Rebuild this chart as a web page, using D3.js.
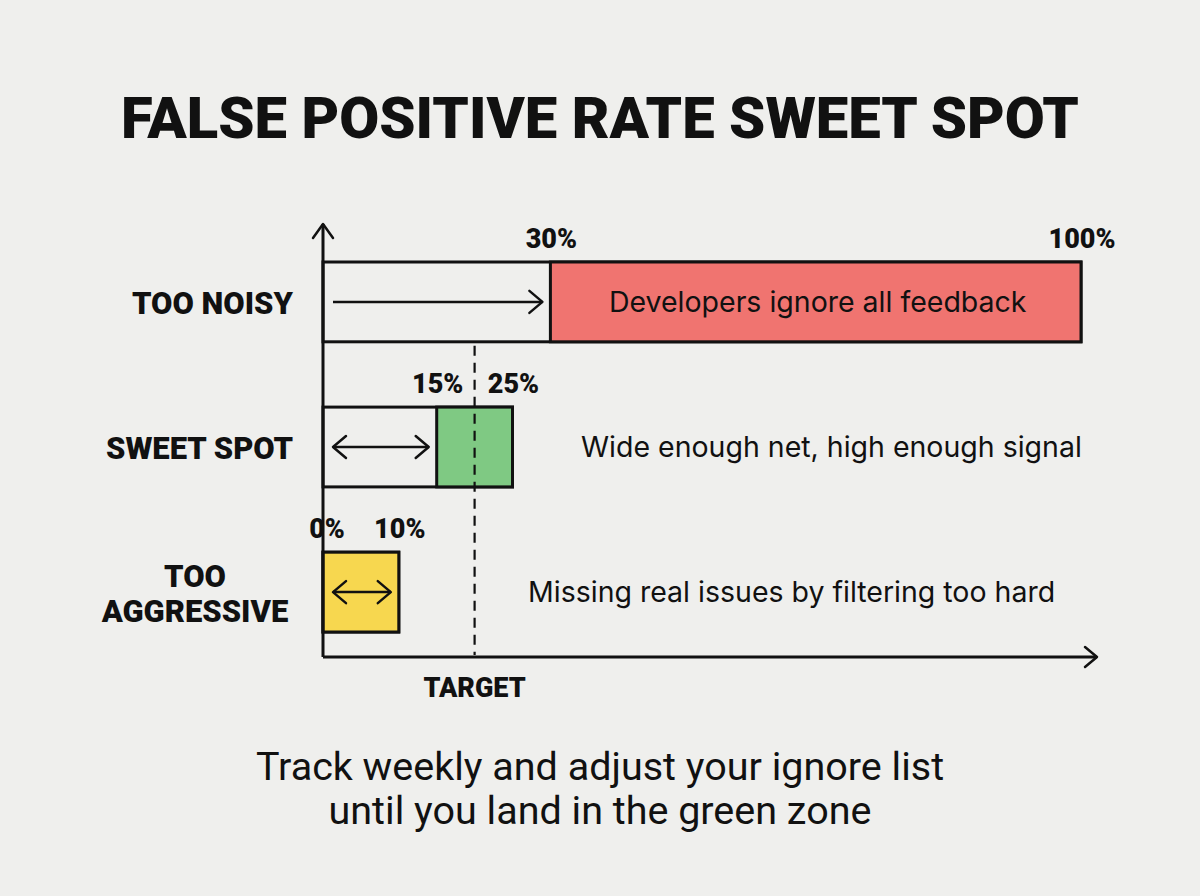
<!DOCTYPE html>
<html>
<head>
<meta charset="utf-8">
<script src="https://cdn.jsdelivr.net/npm/d3@7"></script>
<style>
  html, body { margin: 0; padding: 0; background: #efefed; }
  svg { display: block; }
</style>
</head>
<body>
<svg id="chart" width="1200" height="896"></svg>
<script>
// ---- data ----
const title = "FALSE POSITIVE RATE SWEET SPOT";
const zones = ["TOO NOISY", "SWEET SPOT", "TOO AGGRESSIVE"];
const zoneStart = [30, 15, 0];     // % false positive rate
const zoneEnd = [100, 25, 10];     // %
const zoneNotes = ["Developers ignore all feedback", "Wide enough net, high enough signal", "Missing real issues by filtering too hard"];
const zoneColors = ["#f07470", "#7fc983", "#f7d74f"];
const targetValue = 20;            // %
const targetLabel = "TARGET";
const footer = ["Track weekly and adjust your ignore list", "until you land in the green zone"];

const svg = d3.select("#chart");
const W = 1200, H = 896;
svg.append("rect").attr("width", W).attr("height", H).attr("fill", "#efefed");

const x = d3.scaleLinear().domain([0, 100]).range([323, 1081]);
const y = d3.scaleBand().domain(zones).range([262, 632]).paddingInner(0.45).paddingOuter(0);
const axisBottom = 657;
const ink = "#111";
const boldFont = "Roboto, sans-serif";
const sw = 3;

function applyAttrs(sel, obj) { Object.entries(obj).forEach(([k, v]) => sel.attr(k, v)); return sel; }

// title
svg.append("text").attr("x", 600).attr("y", 138).attr("text-anchor", "middle")
  .attr("font-family", boldFont).attr("font-weight", 900).attr("font-size", 58)
  .attr("fill", ink).text(title);

const g = svg.append("g");

// zone bars
zones.forEach((z, i) => {
  const y0 = y(z), bh = y.bandwidth();
  const xs = x(zoneStart[i]), xe = x(zoneEnd[i]);
  // outline band from axis to bar end
  g.append("rect").attr("x", x(0)).attr("y", y0).attr("width", xe - x(0)).attr("height", bh)
    .attr("fill", "none").attr("stroke", ink).attr("stroke-width", sw);
  // colored bar
  g.append("rect").attr("x", xs).attr("y", y0).attr("width", xe - xs).attr("height", bh)
    .attr("fill", zoneColors[i]).attr("stroke", ink).attr("stroke-width", sw);
  // value labels
  const lblY = y0 - 14;
  [zoneStart[i], zoneEnd[i]].forEach(v => {
    g.append("text").attr("x", x(v) + (v === 0 ? 4 : 1)).attr("y", lblY).attr("text-anchor", "middle")
      .attr("font-family", boldFont).attr("font-weight", 900).attr("font-size", 27)
      .attr("fill", ink).text(v + "%");
  });
  // arrows
  const ay = y0 + bh / 2;
  const a0 = x(0) + 10, a1 = (i === 2 ? xe : xs) - 8;
  g.append("line").attr("x1", a0).attr("x2", a1).attr("y1", ay).attr("y2", ay)
    .attr("stroke", ink).attr("stroke-width", 2.5);
  g.append("path").attr("d", `M${a1 - 13},${ay - 11} L${a1},${ay} L${a1 - 13},${ay + 11}`)
    .attr("fill", "none").attr("stroke", ink).attr("stroke-width", 2.5).attr("stroke-linecap", "round").attr("stroke-linejoin", "round");
  if (i > 0) {
    g.append("path").attr("d", `M${a0 + 13},${ay - 11} L${a0},${ay} L${a0 + 13},${ay + 11}`)
      .attr("fill", "none").attr("stroke", ink).attr("stroke-width", 2.5).attr("stroke-linecap", "round").attr("stroke-linejoin", "round");
  }
  // notes
  const noteFont = { "font-family": "Inter, sans-serif", "font-size": 28.5, "fill": ink };
  let t;
  if (i === 0) {
    t = g.append("text").attr("x", (xs + xe) / 2 + 2).attr("y", ay + 10).attr("text-anchor", "middle");
  } else if (i === 1) {
    t = g.append("text").attr("x", 581).attr("y", ay + 10).attr("text-anchor", "start");
  } else {
    t = g.append("text").attr("x", 528).attr("y", ay + 10).attr("text-anchor", "start");
  }
  applyAttrs(t, noteFont).text(zoneNotes[i]);
  // zone labels
  const lf = { "font-family": boldFont, "font-weight": 900, "font-size": 31, "fill": ink };
  if (i < 2) {
    applyAttrs(g.append("text").attr("x", 293).attr("y", ay + 12).attr("text-anchor", "end"), lf).text(z);
  } else {
    z.split(" ").forEach((p, k) => {
      applyAttrs(g.append("text").attr("x", 195).attr("y", ay - 5 + k * 35).attr("text-anchor", "middle"), lf).text(p);
    });
  }
});

// axes
g.append("line").attr("x1", x(0)).attr("x2", x(0)).attr("y1", 224).attr("y2", axisBottom)
  .attr("stroke", ink).attr("stroke-width", sw);
g.append("path").attr("d", `M${x(0) - 10},${238} L${x(0)},${224} L${x(0) + 10},${238}`)
  .attr("fill", "none").attr("stroke", ink).attr("stroke-width", 2.5).attr("stroke-linecap", "round").attr("stroke-linejoin", "round");
g.append("line").attr("x1", x(0)).attr("x2", 1097).attr("y1", axisBottom).attr("y2", axisBottom)
  .attr("stroke", ink).attr("stroke-width", sw);
g.append("path").attr("d", `M1085,${axisBottom - 10} L1097,${axisBottom} L1085,${axisBottom + 10}`)
  .attr("fill", "none").attr("stroke", ink).attr("stroke-width", 2.5).attr("stroke-linecap", "round").attr("stroke-linejoin", "round");

// target line
const tx = x(targetValue);
g.append("line").attr("x1", tx).attr("x2", tx).attr("y1", y(zones[0]) + y.bandwidth() + 4).attr("y2", axisBottom - 2)
  .attr("stroke", ink).attr("stroke-width", 2.2).attr("stroke-dasharray", "10,7");
g.append("text").attr("x", tx).attr("y", 697).attr("text-anchor", "middle")
  .attr("font-family", boldFont).attr("font-weight", 900).attr("font-size", 27)
  .attr("fill", ink).text(targetLabel);

// footer
footer.forEach((f, i) => {
  svg.append("text").attr("x", 600).attr("y", 780 + i * 44).attr("text-anchor", "middle")
    .attr("font-family", "Roboto, sans-serif").attr("font-size", 39.5).attr("fill", ink).text(f);
});
</script>
</body>
</html>
